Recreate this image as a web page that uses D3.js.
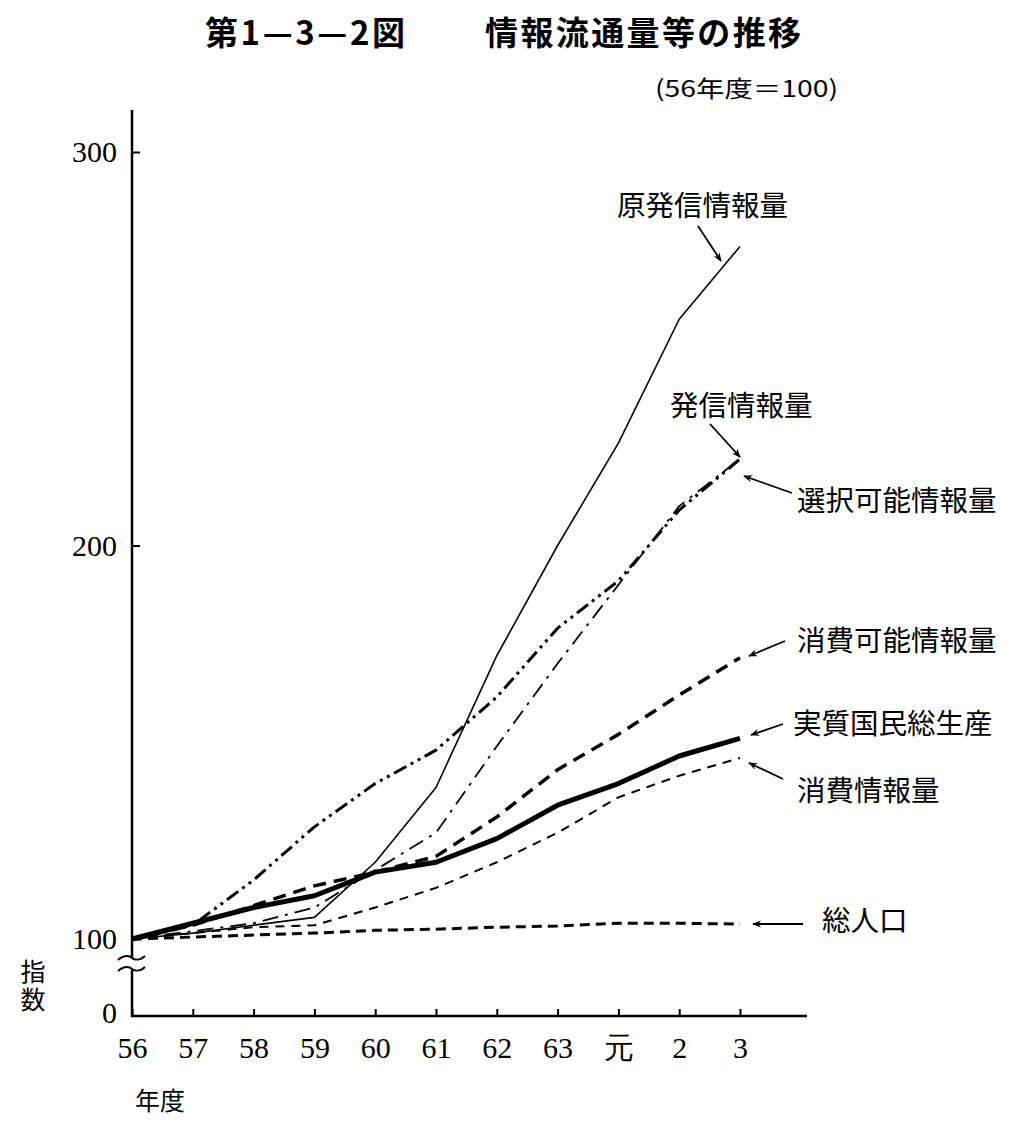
<!DOCTYPE html>
<html>
<head>
<meta charset="utf-8">
<script src="https://cdn.jsdelivr.net/npm/d3@7"></script>
<style>
  body { margin: 0; background: #fff; }
  svg text { fill: #000; }
</style>
</head>
<body>
<div id="chart"></div>
<script>
const years = ['56', '57', '58', '59', '60', '61', '62', '63', '元', '2', '3'];
const yTicks = [100, 200, 300];

// index values (56年度 = 100)
const genHasshin = [100, 101.5, 103.5, 105.5, 119.5, 138.5, 172, 200, 226, 257.5, 276];
const hasshin = [100, 103.5, 115, 128.5, 139.5, 148, 161.5, 179, 191, 209, 222];
const sentakuKanou = [100, 102, 104, 108, 117.5, 127, 149, 170, 190, 210, 222];
const shouhiKanou = [100, 103.5, 108.5, 113.5, 117, 121, 131, 143, 152, 162, 171.5];
const gnp = [100, 104, 108, 111, 117, 119.5, 125.5, 134, 139.5, 146.5, 151];
const shouhi = [100, 101.5, 103, 103.5, 108, 113, 119.5, 127, 136, 141.5, 146];
const jinkou = [100, 100.5, 101, 101.5, 102.2, 102.5, 103, 103.3, 104, 104, 103.8];

const series = [
  { name: '原発信情報量', values: genHasshin, width: 1.6, dash: null },
  { name: '発信情報量', values: hasshin, width: 3, dash: '14,5,3,5,3,5' },
  { name: '選択可能情報量', values: sentakuKanou, width: 1.8, dash: '16,7,3,7' },
  { name: '消費可能情報量', values: shouhiKanou, width: 3.5, dash: '13,8' },
  { name: '実質国民総生産', values: gnp, width: 5, dash: null },
  { name: '消費情報量', values: shouhi, width: 2, dash: '9,7' },
  { name: '総人口', values: jinkou, width: 3, dash: '10,6' },
];

// label position, arrow from -> to
const labels = [
  { text: '原発信情報量', x: 617, y: 216, ax1: 698, ay1: 226, ax2: 721, ay2: 261 },
  { text: '発信情報量', x: 670, y: 416, ax1: 710, ay1: 424, ax2: 740, ay2: 457 },
  { text: '選択可能情報量', x: 797, y: 511, ax1: 792, ay1: 493, ax2: 744, ay2: 476 },
  { text: '消費可能情報量', x: 797, y: 651, ax1: 785, ay1: 641, ax2: 749, ay2: 656 },
  { text: '実質国民総生産', x: 793, y: 734, ax1: 783, ay1: 724, ax2: 751, ay2: 735 },
  { text: '消費情報量', x: 797, y: 801, ax1: 783, ay1: 779, ax2: 749, ay2: 763 },
  { text: '総人口', x: 822, y: 931, ax1: 803, ay1: 924, ax2: 753, ay2: 924 },
];

const totalWidth = 1029;
const totalHeight = 1121;
const axisX = 132;
const axisBottom = 1016;

const xScale = d3.scalePoint().domain(years).range([132, 740]);
const yScale = d3.scaleLinear().domain([100, 300]).range([939, 152]);

const svg = d3
  .select('#chart')
  .append('svg')
  .attr('width', totalWidth)
  .attr('height', totalHeight);

const serif = '"Liberation Serif", "DejaVu Serif", serif';
const jp = '"Noto Sans CJK JP", sans-serif';

// arrow head
svg
  .append('defs')
  .append('marker')
  .attr('id', 'arrow')
  .attr('viewBox', '0 0 10 10')
  .attr('refX', 9)
  .attr('refY', 5)
  .attr('markerWidth', 9)
  .attr('markerHeight', 9)
  .attr('markerUnits', 'userSpaceOnUse')
  .attr('orient', 'auto')
  .append('path')
  .attr('d', 'M0,1 L10,5 L0,9 L3,5 Z')
  .attr('fill', '#000');

// Title
svg
  .append('text')
  .attr('x', 205)
  .attr('y', 45)
  .attr('font-family', jp)
  .attr('font-weight', 'bold')
  .attr('font-size', 33)
  .attr('textLength', 200)
  .attr('lengthAdjust', 'spacing')
  .text('第1—3—2図');

svg
  .append('text')
  .attr('x', 485)
  .attr('y', 45)
  .attr('font-family', jp)
  .attr('font-weight', 'bold')
  .attr('font-size', 33)
  .attr('textLength', 316)
  .attr('lengthAdjust', 'spacing')
  .text('情報流通量等の推移');

svg
  .append('text')
  .attr('x', 655)
  .attr('y', 97)
  .attr('font-family', jp)
  .attr('font-size', 23)
  .attr('textLength', 183)
  .attr('lengthAdjust', 'spacingAndGlyphs')
  .text('(56年度＝100)');

// Y axis ticks + labels
svg
  .append('g')
  .attr('transform', `translate(${axisX},0)`)
  .call(d3.axisLeft(yScale).tickValues(yTicks).tickSize(-8).tickPadding(15))
  .call((g) => g.select('.domain').remove())
  .call((g) => g.selectAll('.tick line').attr('stroke-width', 2))
  .call((g) =>
    g.selectAll('.tick text').attr('font-family', serif).attr('font-size', 30)
  );

// "0" at foot of the broken axis
svg
  .append('text')
  .attr('x', 117)
  .attr('y', 1023)
  .attr('text-anchor', 'end')
  .attr('font-family', serif)
  .attr('font-size', 30)
  .text('0');

// Y axis line with break
svg
  .append('line')
  .attr('x1', axisX)
  .attr('x2', axisX)
  .attr('y1', 110)
  .attr('y2', 958)
  .attr('stroke', '#000')
  .attr('stroke-width', 2.5);

svg
  .append('line')
  .attr('x1', axisX)
  .attr('x2', axisX)
  .attr('y1', 970)
  .attr('y2', axisBottom + 1)
  .attr('stroke', '#000')
  .attr('stroke-width', 2.5);

svg
  .append('rect')
  .attr('x', axisX - 14)
  .attr('y', 958)
  .attr('width', 28)
  .attr('height', 12)
  .attr('fill', '#fff');

[958, 969].forEach((by) => {
  svg
    .append('path')
    .attr(
      'd',
      `M${axisX - 14},${by + 2} C${axisX - 7},${by - 4} ${axisX - 2},${by - 2} ${axisX},${by} S${axisX + 8},${by + 3} ${axisX + 13},${by - 2}`
    )
    .attr('fill', 'none')
    .attr('stroke', '#000')
    .attr('stroke-width', 1.8);
});

// X axis
svg
  .append('g')
  .attr('transform', `translate(0,${axisBottom})`)
  .call(d3.axisBottom(xScale).tickSize(-7).tickPadding(21))
  .call((g) => g.select('.domain').remove())
  .call((g) => g.selectAll('.tick line').attr('stroke-width', 2))
  .call((g) =>
    g.selectAll('.tick text').attr('font-family', serif).attr('font-size', 30)
  );

svg
  .append('line')
  .attr('x1', axisX - 1)
  .attr('x2', 807)
  .attr('y1', axisBottom)
  .attr('y2', axisBottom)
  .attr('stroke', '#000')
  .attr('stroke-width', 2.5);

// axis titles
svg
  .append('text')
  .attr('x', 160)
  .attr('y', 1110)
  .attr('text-anchor', 'middle')
  .attr('font-family', jp)
  .attr('font-size', 25)
  .text('年度');

// vertical "指数"
svg
  .append('text')
  .attr('x', 33)
  .attr('y', 959)
  .attr('font-family', jp)
  .attr('font-size', 25)
  .style('writing-mode', 'vertical-rl')
  .style('letter-spacing', '3px')
  .text('指数');

// Lines
const line = d3
  .line()
  .x((d, i) => xScale(years[i]))
  .y((d) => yScale(d));

svg
  .append('g')
  .selectAll('path')
  .data(series)
  .join('path')
  .attr('d', (d) => line(d.values))
  .attr('fill', 'none')
  .attr('stroke', '#000')
  .attr('stroke-width', (d) => d.width)
  .attr('stroke-dasharray', (d) => d.dash)
  .attr('stroke-linejoin', 'round');

// Labels and arrows
const lab = svg.append('g').selectAll('g').data(labels).join('g');

lab
  .append('text')
  .attr('x', (d) => d.x)
  .attr('y', (d) => d.y)
  .attr('font-family', jp)
  .attr('font-size', 28.5)
  .text((d) => d.text);

lab
  .append('line')
  .attr('x1', (d) => d.ax1)
  .attr('y1', (d) => d.ay1)
  .attr('x2', (d) => d.ax2)
  .attr('y2', (d) => d.ay2)
  .attr('stroke', '#000')
  .attr('stroke-width', 1.8)
  .attr('marker-end', 'url(#arrow)');
</script>
</body>
</html>
